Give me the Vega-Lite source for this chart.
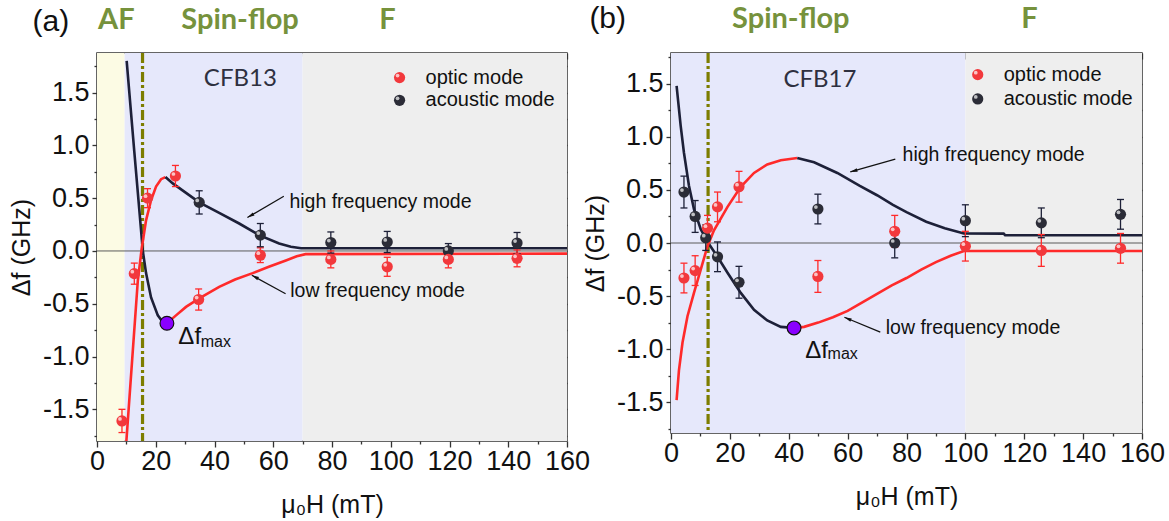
{
  "$schema": "https://vega.github.io/schema/vega-lite/v6.json",
  "padding": {"left": 8, "top": 3, "right": 5, "bottom": 3},
  "background": "white",
  "config": {
    "view": {"stroke": "#333333", "strokeWidth": 1.5},
    "axis": {"domain": false, "grid": false, "tickColor": "#333333", "tickWidth": 1.3, "labelFont": "Liberation Sans", "titleFont": "Liberation Sans", "labelColor": "#111111", "titleColor": "#111111", "labelFlush": false, "labelOverlap": false, "titleFontWeight": "normal"}
  },
  "datasets": {
    "bgA": [{"a": 0, "b": 9.4, "zone": "AF"}, {"a": 9.4, "b": 70, "zone": "SF"}, {"a": 70, "b": 160, "zone": "F"}],
    "bgB": [{"a": 0, "b": 100, "zone": "SF"}, {"a": 100, "b": 160, "zone": "F"}],
    "curvesA": [
      {"seg": "A1", "mode": "acoustic mode", "h": 10.1, "f": 1.8}, {"seg": "A1", "mode": "acoustic mode", "h": 12.7, "f": 0.94}, {"seg": "A1", "mode": "acoustic mode", "h": 15.6, "f": 0.0}, {"seg": "A1", "mode": "acoustic mode", "h": 16.7, "f": -0.21}, {"seg": "A1", "mode": "acoustic mode", "h": 18.4, "f": -0.44}, {"seg": "A1", "mode": "acoustic mode", "h": 20.7, "f": -0.61}, {"seg": "A1", "mode": "acoustic mode", "h": 22.3, "f": -0.67}, {"seg": "A1", "mode": "acoustic mode", "h": 23.8, "f": -0.685},
      {"seg": "A2", "mode": "optic mode", "h": 23.8, "f": -0.685}, {"seg": "A2", "mode": "optic mode", "h": 26.9, "f": -0.61}, {"seg": "A2", "mode": "optic mode", "h": 30.3, "f": -0.53}, {"seg": "A2", "mode": "optic mode", "h": 34.8, "f": -0.45}, {"seg": "A2", "mode": "optic mode", "h": 41.6, "f": -0.34}, {"seg": "A2", "mode": "optic mode", "h": 47, "f": -0.27}, {"seg": "A2", "mode": "optic mode", "h": 53, "f": -0.21}, {"seg": "A2", "mode": "optic mode", "h": 58.5, "f": -0.15}, {"seg": "A2", "mode": "optic mode", "h": 64.3, "f": -0.09}, {"seg": "A2", "mode": "optic mode", "h": 68, "f": -0.05}, {"seg": "A2", "mode": "optic mode", "h": 71, "f": -0.03}, {"seg": "A2", "mode": "optic mode", "h": 160, "f": -0.025},
      {"seg": "A3", "mode": "optic mode", "h": 10.0, "f": -1.8}, {"seg": "A3", "mode": "optic mode", "h": 12.0, "f": -1.02}, {"seg": "A3", "mode": "optic mode", "h": 13.9, "f": -0.28}, {"seg": "A3", "mode": "optic mode", "h": 15.2, "f": 0.02}, {"seg": "A3", "mode": "optic mode", "h": 16.7, "f": 0.29}, {"seg": "A3", "mode": "optic mode", "h": 18.4, "f": 0.48}, {"seg": "A3", "mode": "optic mode", "h": 20.1, "f": 0.61}, {"seg": "A3", "mode": "optic mode", "h": 21.8, "f": 0.68}, {"seg": "A3", "mode": "optic mode", "h": 23.3, "f": 0.7},
      {"seg": "A4", "mode": "acoustic mode", "h": 23.3, "f": 0.7}, {"seg": "A4", "mode": "acoustic mode", "h": 25.8, "f": 0.64}, {"seg": "A4", "mode": "acoustic mode", "h": 30.3, "f": 0.55}, {"seg": "A4", "mode": "acoustic mode", "h": 34.8, "f": 0.46}, {"seg": "A4", "mode": "acoustic mode", "h": 41.6, "f": 0.36}, {"seg": "A4", "mode": "acoustic mode", "h": 48.4, "f": 0.26}, {"seg": "A4", "mode": "acoustic mode", "h": 55.2, "f": 0.15}, {"seg": "A4", "mode": "acoustic mode", "h": 62, "f": 0.07}, {"seg": "A4", "mode": "acoustic mode", "h": 66, "f": 0.04}, {"seg": "A4", "mode": "acoustic mode", "h": 69.5, "f": 0.025}, {"seg": "A4", "mode": "acoustic mode", "h": 160, "f": 0.025}
    ],
    "curvesB": [
      {"seg": "B1", "mode": "acoustic mode", "h": 1.9, "f": 1.48}, {"seg": "B1", "mode": "acoustic mode", "h": 3.3, "f": 1.1}, {"seg": "B1", "mode": "acoustic mode", "h": 4.4, "f": 0.85}, {"seg": "B1", "mode": "acoustic mode", "h": 6.1, "f": 0.54}, {"seg": "B1", "mode": "acoustic mode", "h": 7.8, "f": 0.32}, {"seg": "B1", "mode": "acoustic mode", "h": 10.1, "f": 0.13}, {"seg": "B1", "mode": "acoustic mode", "h": 12.9, "f": -0.01}, {"seg": "B1", "mode": "acoustic mode", "h": 15.8, "f": -0.13}, {"seg": "B1", "mode": "acoustic mode", "h": 19.2, "f": -0.28}, {"seg": "B1", "mode": "acoustic mode", "h": 23.7, "f": -0.47}, {"seg": "B1", "mode": "acoustic mode", "h": 28.2, "f": -0.63}, {"seg": "B1", "mode": "acoustic mode", "h": 32.7, "f": -0.73}, {"seg": "B1", "mode": "acoustic mode", "h": 37.3, "f": -0.79}, {"seg": "B1", "mode": "acoustic mode", "h": 41.8, "f": -0.8},
      {"seg": "B2", "mode": "optic mode", "h": 41.8, "f": -0.8}, {"seg": "B2", "mode": "optic mode", "h": 45.2, "f": -0.79}, {"seg": "B2", "mode": "optic mode", "h": 50, "f": -0.75}, {"seg": "B2", "mode": "optic mode", "h": 55, "f": -0.7}, {"seg": "B2", "mode": "optic mode", "h": 60, "f": -0.64}, {"seg": "B2", "mode": "optic mode", "h": 65, "f": -0.56}, {"seg": "B2", "mode": "optic mode", "h": 70, "f": -0.48}, {"seg": "B2", "mode": "optic mode", "h": 75, "f": -0.4}, {"seg": "B2", "mode": "optic mode", "h": 80, "f": -0.33}, {"seg": "B2", "mode": "optic mode", "h": 85, "f": -0.25}, {"seg": "B2", "mode": "optic mode", "h": 90, "f": -0.18}, {"seg": "B2", "mode": "optic mode", "h": 95, "f": -0.12}, {"seg": "B2", "mode": "optic mode", "h": 99.5, "f": -0.075}, {"seg": "B2", "mode": "optic mode", "h": 160, "f": -0.075},
      {"seg": "B3", "mode": "optic mode", "h": 1.9, "f": -1.48}, {"seg": "B3", "mode": "optic mode", "h": 2.7, "f": -1.2}, {"seg": "B3", "mode": "optic mode", "h": 3.9, "f": -0.94}, {"seg": "B3", "mode": "optic mode", "h": 5.6, "f": -0.69}, {"seg": "B3", "mode": "optic mode", "h": 7.8, "f": -0.47}, {"seg": "B3", "mode": "optic mode", "h": 10.1, "f": -0.25}, {"seg": "B3", "mode": "optic mode", "h": 12.4, "f": -0.03}, {"seg": "B3", "mode": "optic mode", "h": 14.6, "f": 0.12}, {"seg": "B3", "mode": "optic mode", "h": 19.2, "f": 0.34}, {"seg": "B3", "mode": "optic mode", "h": 23.7, "f": 0.53}, {"seg": "B3", "mode": "optic mode", "h": 28.2, "f": 0.66}, {"seg": "B3", "mode": "optic mode", "h": 32.7, "f": 0.74}, {"seg": "B3", "mode": "optic mode", "h": 37.3, "f": 0.78}, {"seg": "B3", "mode": "optic mode", "h": 42.9, "f": 0.8},
      {"seg": "B4", "mode": "acoustic mode", "h": 42.9, "f": 0.8}, {"seg": "B4", "mode": "acoustic mode", "h": 48.6, "f": 0.76}, {"seg": "B4", "mode": "acoustic mode", "h": 56.5, "f": 0.66}, {"seg": "B4", "mode": "acoustic mode", "h": 64, "f": 0.54}, {"seg": "B4", "mode": "acoustic mode", "h": 70, "f": 0.45}, {"seg": "B4", "mode": "acoustic mode", "h": 75.4, "f": 0.36}, {"seg": "B4", "mode": "acoustic mode", "h": 80, "f": 0.29}, {"seg": "B4", "mode": "acoustic mode", "h": 86.7, "f": 0.2}, {"seg": "B4", "mode": "acoustic mode", "h": 93, "f": 0.14}, {"seg": "B4", "mode": "acoustic mode", "h": 99.5, "f": 0.09}, {"seg": "B4", "mode": "acoustic mode", "h": 113, "f": 0.088}, {"seg": "B4", "mode": "acoustic mode", "h": 113.5, "f": 0.073}, {"seg": "B4", "mode": "acoustic mode", "h": 160, "f": 0.073}
    ],
    "ptsA": [
      {"mode": "acoustic mode", "h": 34.8, "f": 0.46, "e": 0.11}, {"mode": "acoustic mode", "h": 55.6, "f": 0.15, "e": 0.11}, {"mode": "acoustic mode", "h": 79.6, "f": 0.08, "e": 0.1}, {"mode": "acoustic mode", "h": 98.8, "f": 0.085, "e": 0.1}, {"mode": "acoustic mode", "h": 119.6, "f": 0.0, "e": 0.07}, {"mode": "acoustic mode", "h": 143, "f": 0.075, "e": 0.1},
      {"mode": "optic mode", "h": 8.5, "f": -1.61, "e": 0.11}, {"mode": "optic mode", "h": 12.7, "f": -0.215, "e": 0.1}, {"mode": "optic mode", "h": 17.2, "f": 0.5, "e": 0.09}, {"mode": "optic mode", "h": 26.7, "f": 0.71, "e": 0.1}, {"mode": "optic mode", "h": 34.6, "f": -0.46, "e": 0.1}, {"mode": "optic mode", "h": 55.6, "f": -0.04, "e": 0.07}, {"mode": "optic mode", "h": 79.6, "f": -0.08, "e": 0.08}, {"mode": "optic mode", "h": 98.8, "f": -0.15, "e": 0.09}, {"mode": "optic mode", "h": 119.6, "f": -0.08, "e": 0.08}, {"mode": "optic mode", "h": 143, "f": -0.07, "e": 0.08}
    ],
    "ptsB": [
      {"mode": "acoustic mode", "h": 4.4, "f": 0.48, "e": 0.15}, {"mode": "acoustic mode", "h": 8.2, "f": 0.25, "e": 0.15}, {"mode": "acoustic mode", "h": 11.8, "f": 0.05, "e": 0.12}, {"mode": "acoustic mode", "h": 15.8, "f": -0.13, "e": 0.14}, {"mode": "acoustic mode", "h": 23.1, "f": -0.37, "e": 0.15}, {"mode": "acoustic mode", "h": 49.9, "f": 0.32, "e": 0.14}, {"mode": "acoustic mode", "h": 76, "f": 0.0, "e": 0.14}, {"mode": "acoustic mode", "h": 100, "f": 0.21, "e": 0.15}, {"mode": "acoustic mode", "h": 125.8, "f": 0.19, "e": 0.14}, {"mode": "acoustic mode", "h": 152.7, "f": 0.27, "e": 0.14},
      {"mode": "optic mode", "h": 4.4, "f": -0.33, "e": 0.14}, {"mode": "optic mode", "h": 8.2, "f": -0.26, "e": 0.14}, {"mode": "optic mode", "h": 12.4, "f": 0.14, "e": 0.12}, {"mode": "optic mode", "h": 15.8, "f": 0.34, "e": 0.14}, {"mode": "optic mode", "h": 23.1, "f": 0.53, "e": 0.145}, {"mode": "optic mode", "h": 49.9, "f": -0.315, "e": 0.15}, {"mode": "optic mode", "h": 76, "f": 0.11, "e": 0.15}, {"mode": "optic mode", "h": 100, "f": -0.03, "e": 0.14}, {"mode": "optic mode", "h": 125.8, "f": -0.07, "e": 0.15}, {"mode": "optic mode", "h": 152.7, "f": -0.05, "e": 0.14}
    ],
    "keyA": [{"mode": "optic mode", "h": 103, "f": 1.642}, {"mode": "acoustic mode", "h": 103, "f": 1.427}],
    "keyB": [{"mode": "optic mode", "h": 104.2, "f": 1.586}, {"mode": "acoustic mode", "h": 104.2, "f": 1.357}],
    "maxA": [{"h": 23.8, "f": -0.685}],
    "maxB": [{"h": 41.8, "f": -0.8}],
    "notesA": [
      {"kind": "zone", "t": "AF", "h": 6.6, "f": 2.19}, {"kind": "zone", "t": "Spin-flop", "h": 48.7, "f": 2.19}, {"kind": "zone", "t": "F", "h": 98.9, "f": 2.19},
      {"kind": "panel", "t": "(a)", "h": -15.7, "f": 2.165},
      {"kind": "sample", "t": "CFB13", "h": 48.8, "f": 1.63},
      {"kind": "mode", "t": "high frequency mode", "h": 96.5, "f": 0.46}, {"kind": "mode", "t": "low frequency mode", "h": 95.5, "f": -0.375},
      {"kind": "df", "t": "Δf", "h": 27.7, "f": -0.815}, {"kind": "sub", "t": "max", "h": 35.3, "f": -0.86}
    ],
    "notesB": [
      {"kind": "zone", "t": "Spin-flop", "h": 40.7, "f": 2.11}, {"kind": "zone", "t": "F", "h": 121.8, "f": 2.11},
      {"kind": "panel", "t": "(b)", "h": -21.5, "f": 2.11},
      {"kind": "sample", "t": "CFB17", "h": 50.6, "f": 1.54},
      {"kind": "mode", "t": "high frequency mode", "h": 109.6, "f": 0.83}, {"kind": "mode", "t": "low frequency mode", "h": 102.6, "f": -0.8},
      {"kind": "df", "t": "Δf", "h": 45.6, "f": -1.016}, {"kind": "sub", "t": "max", "h": 53.2, "f": -1.05}
    ],
    "arrowsA": [{"name": "hi", "h": 63.6, "f": 0.518, "h2": 51.2, "f2": 0.316}, {"name": "lo", "h": 64.2, "f": -0.405, "h2": 52.7, "f2": -0.23}],
    "arrowsB": [{"name": "hi", "h": 76.2, "f": 0.79, "h2": 60.9, "f2": 0.67}, {"name": "lo", "h": 71.1, "f": -0.84, "h2": 58.9, "f2": -0.7}]
  },
  "spacing": 104,
  "bounds": "flush",
  "hconcat": [
    {
      "width": 470,
      "height": 388,
      "resolve": {"axis": {"x": "independent", "y": "independent"}},
      "layer": [
        {"data": {"name": "bgA"}, "mark": {"type": "rect"},
         "encoding": {
           "x": {"field": "a", "type": "quantitative", "scale": {"domain": [0, 160], "nice": false, "zero": false}, "axis": null},
           "x2": {"field": "b"},
           "fill": {"field": "zone", "type": "nominal", "scale": {"domain": ["AF", "SF", "F"], "range": ["#FCFBE4", "#E6E8FB", "#EEEEEE"]}, "legend": null}}},
        {"data": {"values": [{"f": 0}]}, "mark": {"type": "rule", "color": "#5a5a5a", "strokeWidth": 1},
         "encoding": {"y": {"field": "f", "type": "quantitative", "scale": {"domain": [-1.8, 1.875], "nice": false, "zero": false}, "axis": null}}},
        {"data": {"values": [{"h": 15.5}]}, "mark": {"type": "rule", "color": "#7d7d00", "strokeWidth": 3.2, "strokeDash": [10, 3, 3, 3]},
         "encoding": {"x": {"field": "h", "type": "quantitative", "scale": {"domain": [0, 160], "nice": false, "zero": false}, "axis": null}}},
        {"data": {"name": "curvesA"}, "mark": {"type": "line", "strokeWidth": 2.6},
         "encoding": {
           "x": {"field": "h", "type": "quantitative", "scale": {"domain": [0, 160], "nice": false, "zero": false},
                 "axis": {"orient": "bottom", "values": [0, 20, 40, 60, 80, 100, 120, 140, 160], "tickSize": 6, "labelFontSize": 27, "labelPadding": 1, "format": "d", "title": "μ₀H (mT)", "titleFontSize": 25, "titlePadding": 18}},
           "y": {"field": "f", "type": "quantitative", "scale": {"domain": [-1.8, 1.875], "nice": false, "zero": false},
                 "axis": {"orient": "left", "values": [-1.5, -1, -0.5, 0, 0.5, 1, 1.5], "tickSize": 5, "labelFontSize": 27, "labelPadding": 3, "labelExpr": "(datum.value < 0 ? '-' : '') + format(abs(datum.value), '.1f')", "title": "Δf (GHz)", "titleFontSize": 25, "titlePadding": 8}},
           "detail": {"field": "seg"},
           "stroke": {"field": "mode", "type": "nominal", "scale": {"domain": ["optic mode", "acoustic mode"], "range": ["#ff2a2a", "#1d2038"]}, "legend": null}}},
        {"data": {"name": "ptsA"}, "transform": [{"calculate": "datum.f - datum.e", "as": "lo"}, {"calculate": "datum.f + datum.e", "as": "hi"}],
         "mark": {"type": "rule", "strokeWidth": 1.3},
         "encoding": {
           "x": {"field": "h", "type": "quantitative", "scale": {"domain": [0, 160], "nice": false, "zero": false},
                 "axis": {"orient": "top", "values": [0, 20, 40, 60, 80, 100, 120, 140, 160], "tickSize": -6, "labels": false, "title": null}},
           "y": {"field": "lo", "type": "quantitative", "scale": {"domain": [-1.8, 1.875], "nice": false, "zero": false},
                 "axis": {"orient": "right", "values": [-1.5, -1, -0.5, 0, 0.5, 1, 1.5], "tickSize": -5, "labels": false, "title": null}},
           "y2": {"field": "hi"},
           "stroke": {"field": "mode", "type": "nominal", "scale": {"domain": ["optic mode", "acoustic mode"], "range": ["#ff2a2a", "#1d2038"]}, "legend": null}}},
        {"data": {"name": "ptsA"}, "transform": [{"calculate": "datum.f + datum.e", "as": "hi"}],
         "mark": {"type": "point", "shape": "M-1,0L1,0", "filled": false, "size": 49, "strokeWidth": 1.3, "opacity": 1},
         "encoding": {
           "x": {"field": "h", "type": "quantitative", "scale": {"domain": [0, 160], "nice": false, "zero": false},
                 "axis": {"orient": "bottom", "values": [10, 30, 50, 70, 90, 110, 130, 150], "tickSize": 3, "labels": false, "title": null}},
           "y": {"field": "hi", "type": "quantitative", "scale": {"domain": [-1.8, 1.875], "nice": false, "zero": false},
                 "axis": {"orient": "left", "values": [-1.75, -1.25, -0.75, -0.25, 0.25, 0.75, 1.25, 1.75], "tickSize": 3, "labels": false, "title": null}},
           "stroke": {"field": "mode", "type": "nominal", "scale": {"domain": ["optic mode", "acoustic mode"], "range": ["#ff2a2a", "#1d2038"]}, "legend": null}}},
        {"data": {"name": "ptsA"}, "transform": [{"calculate": "datum.f - datum.e", "as": "lo"}],
         "mark": {"type": "point", "shape": "M-1,0L1,0", "filled": false, "size": 49, "strokeWidth": 1.3, "opacity": 1},
         "encoding": {
           "x": {"field": "h", "type": "quantitative", "scale": {"domain": [0, 160], "nice": false, "zero": false},
                 "axis": {"orient": "top", "values": [10, 30, 50, 70, 90, 110, 130, 150], "tickSize": -3, "labels": false, "title": null}},
           "y": {"field": "lo", "type": "quantitative", "scale": {"domain": [-1.8, 1.875], "nice": false, "zero": false},
                 "axis": {"orient": "right", "values": [-1.75, -1.25, -0.75, -0.25, 0.25, 0.75, 1.25, 1.75], "tickSize": -3, "labels": false, "title": null}},
           "stroke": {"field": "mode", "type": "nominal", "scale": {"domain": ["optic mode", "acoustic mode"], "range": ["#ff2a2a", "#1d2038"]}, "legend": null}}},
        {"data": {"name": "ptsA"}, "mark": {"type": "point", "filled": true, "size": 125, "opacity": 1},
         "encoding": {
           "x": {"field": "h", "type": "quantitative", "scale": {"domain": [0, 160], "nice": false, "zero": false}, "axis": null},
           "y": {"field": "f", "type": "quantitative", "scale": {"domain": [-1.8, 1.875], "nice": false, "zero": false}, "axis": null},
           "color": {"field": "mode", "type": "nominal", "scale": {"domain": ["optic mode", "acoustic mode"], "range": ["#f2383c", "#2b2c37"]}, "legend": null}}},
        {"data": {"name": "keyA"}, "mark": {"type": "point", "filled": true, "size": 125, "opacity": 1},
         "encoding": {
           "x": {"field": "h", "type": "quantitative", "scale": {"domain": [0, 160], "nice": false, "zero": false}, "axis": null},
           "y": {"field": "f", "type": "quantitative", "scale": {"domain": [-1.8, 1.875], "nice": false, "zero": false}, "axis": null},
           "color": {"field": "mode", "type": "nominal", "scale": {"domain": ["optic mode", "acoustic mode"], "range": ["#f2383c", "#2b2c37"]}, "legend": null}}},
        {"data": {"name": "keyA"}, "mark": {"type": "text", "font": "Liberation Sans", "fontSize": 20, "color": "#111111", "align": "left", "baseline": "middle", "dx": 26},
         "encoding": {
           "x": {"field": "h", "type": "quantitative", "scale": {"domain": [0, 160], "nice": false, "zero": false}, "axis": null},
           "y": {"field": "f", "type": "quantitative", "scale": {"domain": [-1.8, 1.875], "nice": false, "zero": false}, "axis": null},
           "text": {"field": "mode"}}},
        {"data": {"name": "ptsA"}, "mark": {"type": "point", "filled": true, "size": 14, "color": "white", "opacity": 0.7, "xOffset": -2, "yOffset": -2},
         "encoding": {
           "x": {"field": "h", "type": "quantitative", "scale": {"domain": [0, 160], "nice": false, "zero": false}, "axis": null},
           "y": {"field": "f", "type": "quantitative", "scale": {"domain": [-1.8, 1.875], "nice": false, "zero": false}, "axis": null}}},
        {"data": {"name": "keyA"}, "mark": {"type": "point", "filled": true, "size": 14, "color": "white", "opacity": 0.7, "xOffset": -2, "yOffset": -2},
         "encoding": {
           "x": {"field": "h", "type": "quantitative", "scale": {"domain": [0, 160], "nice": false, "zero": false}, "axis": null},
           "y": {"field": "f", "type": "quantitative", "scale": {"domain": [-1.8, 1.875], "nice": false, "zero": false}, "axis": null}}},
        {"data": {"name": "maxA"}, "mark": {"type": "point", "filled": true, "size": 190, "fill": "#8a00ff", "stroke": "#111111", "strokeWidth": 1.2, "opacity": 1},
         "encoding": {
           "x": {"field": "h", "type": "quantitative", "scale": {"domain": [0, 160], "nice": false, "zero": false}, "axis": null},
           "y": {"field": "f", "type": "quantitative", "scale": {"domain": [-1.8, 1.875], "nice": false, "zero": false}, "axis": null}}},
        {"data": {"name": "arrowsA"}, "mark": {"type": "rule", "color": "#111111", "strokeWidth": 1.2},
         "encoding": {
           "x": {"field": "h", "type": "quantitative", "scale": {"domain": [0, 160], "nice": false, "zero": false}, "axis": null},
           "y": {"field": "f", "type": "quantitative", "scale": {"domain": [-1.8, 1.875], "nice": false, "zero": false}, "axis": null},
           "x2": {"field": "h2"}, "y2": {"field": "f2"}}},
        {"data": {"name": "arrowsA"}, "transform": [{"filter": "datum.name === 'hi'"}],
         "mark": {"type": "point", "shape": "M0,0L0.45,1.8L-0.45,1.8Z", "filled": true, "color": "#111111", "size": 64, "angle": 239.7, "opacity": 1},
         "encoding": {
           "x": {"field": "h2", "type": "quantitative", "scale": {"domain": [0, 160], "nice": false, "zero": false}, "axis": null},
           "y": {"field": "f2", "type": "quantitative", "scale": {"domain": [-1.8, 1.875], "nice": false, "zero": false}, "axis": null}}},
        {"data": {"name": "arrowsA"}, "transform": [{"filter": "datum.name === 'lo'"}],
         "mark": {"type": "point", "shape": "M0,0L0.45,1.8L-0.45,1.8Z", "filled": true, "color": "#111111", "size": 64, "angle": 298.7, "opacity": 1},
         "encoding": {
           "x": {"field": "h2", "type": "quantitative", "scale": {"domain": [0, 160], "nice": false, "zero": false}, "axis": null},
           "y": {"field": "f2", "type": "quantitative", "scale": {"domain": [-1.8, 1.875], "nice": false, "zero": false}, "axis": null}}},
        {"data": {"name": "notesA"}, "transform": [{"filter": "datum.kind === 'zone'"}],
         "mark": {"type": "text", "font": "Lato", "fontWeight": "bold", "fontSize": 29, "color": "#76923C", "align": "center", "baseline": "middle"},
         "encoding": {
           "x": {"field": "h", "type": "quantitative", "scale": {"domain": [0, 160], "nice": false, "zero": false}, "axis": null},
           "y": {"field": "f", "type": "quantitative", "scale": {"domain": [-1.8, 1.875], "nice": false, "zero": false}, "axis": null},
           "text": {"field": "t"}}},
        {"data": {"name": "notesA"}, "transform": [{"filter": "datum.kind === 'panel'"}],
         "mark": {"type": "text", "font": "Liberation Sans", "fontSize": 30, "color": "#111111", "align": "center", "baseline": "middle"},
         "encoding": {
           "x": {"field": "h", "type": "quantitative", "scale": {"domain": [0, 160], "nice": false, "zero": false}, "axis": null},
           "y": {"field": "f", "type": "quantitative", "scale": {"domain": [-1.8, 1.875], "nice": false, "zero": false}, "axis": null},
           "text": {"field": "t"}}},
        {"data": {"name": "notesA"}, "transform": [{"filter": "datum.kind === 'sample'"}],
         "mark": {"type": "text", "font": "Lato", "fontSize": 24, "color": "#2e3040", "align": "center", "baseline": "middle"},
         "encoding": {
           "x": {"field": "h", "type": "quantitative", "scale": {"domain": [0, 160], "nice": false, "zero": false}, "axis": null},
           "y": {"field": "f", "type": "quantitative", "scale": {"domain": [-1.8, 1.875], "nice": false, "zero": false}, "axis": null},
           "text": {"field": "t"}}},
        {"data": {"name": "notesA"}, "transform": [{"filter": "datum.kind === 'mode'"}],
         "mark": {"type": "text", "font": "Liberation Sans", "fontSize": 19.5, "color": "#111111", "align": "center", "baseline": "middle"},
         "encoding": {
           "x": {"field": "h", "type": "quantitative", "scale": {"domain": [0, 160], "nice": false, "zero": false}, "axis": null},
           "y": {"field": "f", "type": "quantitative", "scale": {"domain": [-1.8, 1.875], "nice": false, "zero": false}, "axis": null},
           "text": {"field": "t"}}},
        {"data": {"name": "notesA"}, "transform": [{"filter": "datum.kind === 'df'"}],
         "mark": {"type": "text", "font": "Liberation Sans", "fontSize": 24, "color": "#111111", "align": "left", "baseline": "middle"},
         "encoding": {
           "x": {"field": "h", "type": "quantitative", "scale": {"domain": [0, 160], "nice": false, "zero": false}, "axis": null},
           "y": {"field": "f", "type": "quantitative", "scale": {"domain": [-1.8, 1.875], "nice": false, "zero": false}, "axis": null},
           "text": {"field": "t"}}},
        {"data": {"name": "notesA"}, "transform": [{"filter": "datum.kind === 'sub'"}],
         "mark": {"type": "text", "font": "Liberation Sans", "fontSize": 16, "color": "#111111", "align": "left", "baseline": "middle"},
         "encoding": {
           "x": {"field": "h", "type": "quantitative", "scale": {"domain": [0, 160], "nice": false, "zero": false}, "axis": null},
           "y": {"field": "f", "type": "quantitative", "scale": {"domain": [-1.8, 1.875], "nice": false, "zero": false}, "axis": null},
           "text": {"field": "t"}}}
      ]
    },
    {
      "width": 471,
      "height": 380,
      "resolve": {"axis": {"x": "independent", "y": "independent"}},
      "layer": [
        {"data": {"name": "bgB"}, "mark": {"type": "rect"},
         "encoding": {
           "x": {"field": "a", "type": "quantitative", "scale": {"domain": [0, 160], "nice": false, "zero": false}, "axis": null},
           "x2": {"field": "b"},
           "fill": {"field": "zone", "type": "nominal", "scale": {"domain": ["AF", "SF", "F"], "range": ["#FCFBE4", "#E6E8FB", "#EEEEEE"]}, "legend": null}}},
        {"data": {"values": [{"f": 0}]}, "mark": {"type": "rule", "color": "#5a5a5a", "strokeWidth": 1},
         "encoding": {"y": {"field": "f", "type": "quantitative", "scale": {"domain": [-1.79, 1.79], "nice": false, "zero": false}, "axis": null}}},
        {"data": {"values": [{"h": 12.6}]}, "mark": {"type": "rule", "color": "#7d7d00", "strokeWidth": 3.2, "strokeDash": [10, 3, 3, 3]},
         "encoding": {"x": {"field": "h", "type": "quantitative", "scale": {"domain": [0, 160], "nice": false, "zero": false}, "axis": null}}},
        {"data": {"name": "curvesB"}, "mark": {"type": "line", "strokeWidth": 2.6},
         "encoding": {
           "x": {"field": "h", "type": "quantitative", "scale": {"domain": [0, 160], "nice": false, "zero": false},
                 "axis": {"orient": "bottom", "values": [0, 20, 40, 60, 80, 100, 120, 140, 160], "tickSize": 6, "labelFontSize": 27, "labelPadding": 1, "format": "d", "title": "μ₀H (mT)", "titleFontSize": 25, "titlePadding": 18}},
           "y": {"field": "f", "type": "quantitative", "scale": {"domain": [-1.79, 1.79], "nice": false, "zero": false},
                 "axis": {"orient": "left", "values": [-1.5, -1, -0.5, 0, 0.5, 1, 1.5], "tickSize": 5, "labelFontSize": 27, "labelPadding": 3, "labelExpr": "(datum.value < 0 ? '-' : '') + format(abs(datum.value), '.1f')", "title": "Δf (GHz)", "titleFontSize": 25, "titlePadding": 8}},
           "detail": {"field": "seg"},
           "stroke": {"field": "mode", "type": "nominal", "scale": {"domain": ["optic mode", "acoustic mode"], "range": ["#ff2a2a", "#1d2038"]}, "legend": null}}},
        {"data": {"name": "ptsB"}, "transform": [{"calculate": "datum.f - datum.e", "as": "lo"}, {"calculate": "datum.f + datum.e", "as": "hi"}],
         "mark": {"type": "rule", "strokeWidth": 1.3},
         "encoding": {
           "x": {"field": "h", "type": "quantitative", "scale": {"domain": [0, 160], "nice": false, "zero": false},
                 "axis": {"orient": "top", "values": [0, 20, 40, 60, 80, 100, 120, 140, 160], "tickSize": -6, "labels": false, "title": null}},
           "y": {"field": "lo", "type": "quantitative", "scale": {"domain": [-1.79, 1.79], "nice": false, "zero": false},
                 "axis": {"orient": "right", "values": [-1.5, -1, -0.5, 0, 0.5, 1, 1.5], "tickSize": -5, "labels": false, "title": null}},
           "y2": {"field": "hi"},
           "stroke": {"field": "mode", "type": "nominal", "scale": {"domain": ["optic mode", "acoustic mode"], "range": ["#ff2a2a", "#1d2038"]}, "legend": null}}},
        {"data": {"name": "ptsB"}, "transform": [{"calculate": "datum.f + datum.e", "as": "hi"}],
         "mark": {"type": "point", "shape": "M-1,0L1,0", "filled": false, "size": 49, "strokeWidth": 1.3, "opacity": 1},
         "encoding": {
           "x": {"field": "h", "type": "quantitative", "scale": {"domain": [0, 160], "nice": false, "zero": false},
                 "axis": {"orient": "bottom", "values": [10, 30, 50, 70, 90, 110, 130, 150], "tickSize": 3, "labels": false, "title": null}},
           "y": {"field": "hi", "type": "quantitative", "scale": {"domain": [-1.79, 1.79], "nice": false, "zero": false},
                 "axis": {"orient": "left", "values": [-1.75, -1.25, -0.75, -0.25, 0.25, 0.75, 1.25, 1.75], "tickSize": 3, "labels": false, "title": null}},
           "stroke": {"field": "mode", "type": "nominal", "scale": {"domain": ["optic mode", "acoustic mode"], "range": ["#ff2a2a", "#1d2038"]}, "legend": null}}},
        {"data": {"name": "ptsB"}, "transform": [{"calculate": "datum.f - datum.e", "as": "lo"}],
         "mark": {"type": "point", "shape": "M-1,0L1,0", "filled": false, "size": 49, "strokeWidth": 1.3, "opacity": 1},
         "encoding": {
           "x": {"field": "h", "type": "quantitative", "scale": {"domain": [0, 160], "nice": false, "zero": false},
                 "axis": {"orient": "top", "values": [10, 30, 50, 70, 90, 110, 130, 150], "tickSize": -3, "labels": false, "title": null}},
           "y": {"field": "lo", "type": "quantitative", "scale": {"domain": [-1.79, 1.79], "nice": false, "zero": false},
                 "axis": {"orient": "right", "values": [-1.75, -1.25, -0.75, -0.25, 0.25, 0.75, 1.25, 1.75], "tickSize": -3, "labels": false, "title": null}},
           "stroke": {"field": "mode", "type": "nominal", "scale": {"domain": ["optic mode", "acoustic mode"], "range": ["#ff2a2a", "#1d2038"]}, "legend": null}}},
        {"data": {"name": "ptsB"}, "mark": {"type": "point", "filled": true, "size": 125, "opacity": 1},
         "encoding": {
           "x": {"field": "h", "type": "quantitative", "scale": {"domain": [0, 160], "nice": false, "zero": false}, "axis": null},
           "y": {"field": "f", "type": "quantitative", "scale": {"domain": [-1.79, 1.79], "nice": false, "zero": false}, "axis": null},
           "color": {"field": "mode", "type": "nominal", "scale": {"domain": ["optic mode", "acoustic mode"], "range": ["#f2383c", "#2b2c37"]}, "legend": null}}},
        {"data": {"name": "keyB"}, "mark": {"type": "point", "filled": true, "size": 125, "opacity": 1},
         "encoding": {
           "x": {"field": "h", "type": "quantitative", "scale": {"domain": [0, 160], "nice": false, "zero": false}, "axis": null},
           "y": {"field": "f", "type": "quantitative", "scale": {"domain": [-1.79, 1.79], "nice": false, "zero": false}, "axis": null},
           "color": {"field": "mode", "type": "nominal", "scale": {"domain": ["optic mode", "acoustic mode"], "range": ["#f2383c", "#2b2c37"]}, "legend": null}}},
        {"data": {"name": "keyB"}, "mark": {"type": "text", "font": "Liberation Sans", "fontSize": 20, "color": "#111111", "align": "left", "baseline": "middle", "dx": 26},
         "encoding": {
           "x": {"field": "h", "type": "quantitative", "scale": {"domain": [0, 160], "nice": false, "zero": false}, "axis": null},
           "y": {"field": "f", "type": "quantitative", "scale": {"domain": [-1.79, 1.79], "nice": false, "zero": false}, "axis": null},
           "text": {"field": "mode"}}},
        {"data": {"name": "ptsB"}, "mark": {"type": "point", "filled": true, "size": 14, "color": "white", "opacity": 0.7, "xOffset": -2, "yOffset": -2},
         "encoding": {
           "x": {"field": "h", "type": "quantitative", "scale": {"domain": [0, 160], "nice": false, "zero": false}, "axis": null},
           "y": {"field": "f", "type": "quantitative", "scale": {"domain": [-1.79, 1.79], "nice": false, "zero": false}, "axis": null}}},
        {"data": {"name": "keyB"}, "mark": {"type": "point", "filled": true, "size": 14, "color": "white", "opacity": 0.7, "xOffset": -2, "yOffset": -2},
         "encoding": {
           "x": {"field": "h", "type": "quantitative", "scale": {"domain": [0, 160], "nice": false, "zero": false}, "axis": null},
           "y": {"field": "f", "type": "quantitative", "scale": {"domain": [-1.79, 1.79], "nice": false, "zero": false}, "axis": null}}},
        {"data": {"name": "maxB"}, "mark": {"type": "point", "filled": true, "size": 190, "fill": "#8a00ff", "stroke": "#111111", "strokeWidth": 1.2, "opacity": 1},
         "encoding": {
           "x": {"field": "h", "type": "quantitative", "scale": {"domain": [0, 160], "nice": false, "zero": false}, "axis": null},
           "y": {"field": "f", "type": "quantitative", "scale": {"domain": [-1.79, 1.79], "nice": false, "zero": false}, "axis": null}}},
        {"data": {"name": "arrowsB"}, "mark": {"type": "rule", "color": "#111111", "strokeWidth": 1.2},
         "encoding": {
           "x": {"field": "h", "type": "quantitative", "scale": {"domain": [0, 160], "nice": false, "zero": false}, "axis": null},
           "y": {"field": "f", "type": "quantitative", "scale": {"domain": [-1.79, 1.79], "nice": false, "zero": false}, "axis": null},
           "x2": {"field": "h2"}, "y2": {"field": "f2"}}},
        {"data": {"name": "arrowsB"}, "transform": [{"filter": "datum.name === 'hi'"}],
         "mark": {"type": "point", "shape": "M0,0L0.45,1.8L-0.45,1.8Z", "filled": true, "color": "#111111", "size": 64, "angle": 254.2, "opacity": 1},
         "encoding": {
           "x": {"field": "h2", "type": "quantitative", "scale": {"domain": [0, 160], "nice": false, "zero": false}, "axis": null},
           "y": {"field": "f2", "type": "quantitative", "scale": {"domain": [-1.79, 1.79], "nice": false, "zero": false}, "axis": null}}},
        {"data": {"name": "arrowsB"}, "transform": [{"filter": "datum.name === 'lo'"}],
         "mark": {"type": "point", "shape": "M0,0L0.45,1.8L-0.45,1.8Z", "filled": true, "color": "#111111", "size": 64, "angle": 292.5, "opacity": 1},
         "encoding": {
           "x": {"field": "h2", "type": "quantitative", "scale": {"domain": [0, 160], "nice": false, "zero": false}, "axis": null},
           "y": {"field": "f2", "type": "quantitative", "scale": {"domain": [-1.79, 1.79], "nice": false, "zero": false}, "axis": null}}},
        {"data": {"name": "notesB"}, "transform": [{"filter": "datum.kind === 'zone'"}],
         "mark": {"type": "text", "font": "Lato", "fontWeight": "bold", "fontSize": 29, "color": "#76923C", "align": "center", "baseline": "middle"},
         "encoding": {
           "x": {"field": "h", "type": "quantitative", "scale": {"domain": [0, 160], "nice": false, "zero": false}, "axis": null},
           "y": {"field": "f", "type": "quantitative", "scale": {"domain": [-1.79, 1.79], "nice": false, "zero": false}, "axis": null},
           "text": {"field": "t"}}},
        {"data": {"name": "notesB"}, "transform": [{"filter": "datum.kind === 'panel'"}],
         "mark": {"type": "text", "font": "Liberation Sans", "fontSize": 30, "color": "#111111", "align": "center", "baseline": "middle"},
         "encoding": {
           "x": {"field": "h", "type": "quantitative", "scale": {"domain": [0, 160], "nice": false, "zero": false}, "axis": null},
           "y": {"field": "f", "type": "quantitative", "scale": {"domain": [-1.79, 1.79], "nice": false, "zero": false}, "axis": null},
           "text": {"field": "t"}}},
        {"data": {"name": "notesB"}, "transform": [{"filter": "datum.kind === 'sample'"}],
         "mark": {"type": "text", "font": "Lato", "fontSize": 24, "color": "#2e3040", "align": "center", "baseline": "middle"},
         "encoding": {
           "x": {"field": "h", "type": "quantitative", "scale": {"domain": [0, 160], "nice": false, "zero": false}, "axis": null},
           "y": {"field": "f", "type": "quantitative", "scale": {"domain": [-1.79, 1.79], "nice": false, "zero": false}, "axis": null},
           "text": {"field": "t"}}},
        {"data": {"name": "notesB"}, "transform": [{"filter": "datum.kind === 'mode'"}],
         "mark": {"type": "text", "font": "Liberation Sans", "fontSize": 19.5, "color": "#111111", "align": "center", "baseline": "middle"},
         "encoding": {
           "x": {"field": "h", "type": "quantitative", "scale": {"domain": [0, 160], "nice": false, "zero": false}, "axis": null},
           "y": {"field": "f", "type": "quantitative", "scale": {"domain": [-1.79, 1.79], "nice": false, "zero": false}, "axis": null},
           "text": {"field": "t"}}},
        {"data": {"name": "notesB"}, "transform": [{"filter": "datum.kind === 'df'"}],
         "mark": {"type": "text", "font": "Liberation Sans", "fontSize": 24, "color": "#111111", "align": "left", "baseline": "middle"},
         "encoding": {
           "x": {"field": "h", "type": "quantitative", "scale": {"domain": [0, 160], "nice": false, "zero": false}, "axis": null},
           "y": {"field": "f", "type": "quantitative", "scale": {"domain": [-1.79, 1.79], "nice": false, "zero": false}, "axis": null},
           "text": {"field": "t"}}},
        {"data": {"name": "notesB"}, "transform": [{"filter": "datum.kind === 'sub'"}],
         "mark": {"type": "text", "font": "Liberation Sans", "fontSize": 16, "color": "#111111", "align": "left", "baseline": "middle"},
         "encoding": {
           "x": {"field": "h", "type": "quantitative", "scale": {"domain": [0, 160], "nice": false, "zero": false}, "axis": null},
           "y": {"field": "f", "type": "quantitative", "scale": {"domain": [-1.79, 1.79], "nice": false, "zero": false}, "axis": null},
           "text": {"field": "t"}}}
      ]
    }
  ]
}
